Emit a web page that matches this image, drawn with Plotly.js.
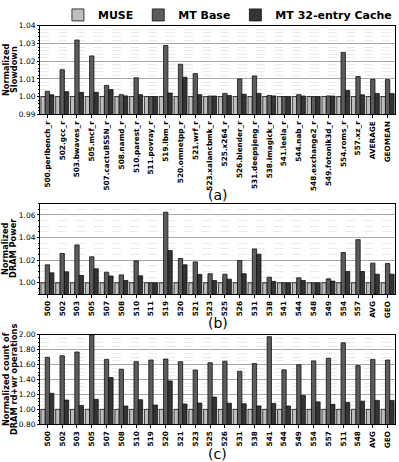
<!DOCTYPE html>
<html>
<head>
<meta charset="utf-8">
<script src="https://cdn.plot.ly/plotly-3.0.1.min.js"></script>
<style>
  html, body { margin: 0; padding: 0; background: #fff; }
  #chart { width: 399px; height: 462px; }
</style>
</head>
<body>
<div id="chart"></div>
<script>
// (a) normalized slowdown
const benchA = ['500.perlbench_r', '502.gcc_r', '503.bwaves_r', '505.mcf_r', '507.cactuBSSN_r', '508.namd_r',
    '510.parest_r', '511.povray_r', '519.lbm_r', '520.omnetpp_r', '521.wrf_r', '523.xalancbmk_r', '525.x264_r',
    '526.blender_r', '531.deepsjeng_r', '538.imagick_r', '541.leela_r', '544.nab_r', '548.exchange2_r',
    '549.fotonik3d_r', '554.roms_r', '557.xz_r', 'AVERAGE', 'GEOMEAN']
const museA = [1, 1, 1, 1, 1, 1, 1, 1, 1, 1, 1, 1, 1, 1, 1, 1, 1, 1, 1, 1, 1, 1, 1, 1]
const baseA = [1.0030, 1.0152, 1.0320, 1.0230, 1.0063, 1.0011, 1.0106, 1.0000, 1.0289, 1.0183, 1.0130, 1.0003,
    1.0018, 1.0100, 1.0117, 1.0006, 1.0000, 1.0011, 1.0000, 1.0004, 1.0250, 1.0113, 1.0098, 1.0096]
const cacheA = [1.0010, 1.0028, 1.0024, 1.0024, 1.0040, 1.0004, 1.0011, 1.0000, 1.0020, 1.0109, 1.0011, 1.0003,
    1.0006, 1.0013, 1.0018, 1.0004, 1.0000, 1.0003, 1.0000, 1.0003, 1.0035, 1.0010, 1.0018, 1.0017]

// (b) normalized DRAM power
const benchB = ['500', '502', '503', '505', '507', '508', '510', '511', '519', '520', '521', '523', '525', '526',
    '531', '538', '541', '544', '548', '549', '554', '557', 'AVG', 'GEO']
const museB = [1, 1, 1, 1, 1, 1, 1, 1, 1, 1, 1, 1, 1, 1, 1, 1, 1, 1, 1, 1, 1, 1, 1, 1]
const baseB = [1.0159, 1.0260, 1.0335, 1.0230, 1.0094, 1.0070, 1.0194, 1.0000, 1.0624, 1.0215, 1.0185, 1.0080,
    1.0076, 1.0197, 1.0300, 1.0050, 1.0000, 1.0044, 1.0000, 1.0035, 1.0268, 1.0382, 1.0174, 1.0170]
const cacheB = [1.0088, 1.0097, 1.0065, 1.0124, 1.0060, 1.0020, 1.0062, 1.0000, 1.0285, 1.0159, 1.0074, 1.0020,
    1.0032, 1.0080, 1.0253, 1.0012, 1.0000, 1.0020, 1.0000, 1.0015, 1.0100, 1.0100, 1.0076, 1.0076]

// (c) normalized count of DRAM rd+wr operations
const benchC = ['500', '502', '503', '505', '507', '508', '510', '519', '520', '521', '523', '525', '526', '531',
    '538', '541', '544', '549', '554', '557', '511', '548', 'AVG', 'GEO']
const museC = [1, 1, 1, 1, 1, 1, 1, 1, 1, 1, 1, 1, 1, 1, 1, 1, 1, 1, 1, 1, 1, 1, 1, 1]
const baseC = [1.698, 1.720, 1.770, 2.000, 1.670, 1.538, 1.640, 1.662, 1.675, 1.640, 1.529, 1.625, 1.645, 1.510,
    1.615, 1.975, 1.530, 1.600, 1.650, 1.685, 1.893, 1.587, 1.670, 1.662]
const cacheC = [1.215, 1.124, 1.053, 1.133, 1.427, 1.044, 1.129, 1.058, 1.382, 1.071, 1.084, 1.165, 1.082, 1.075,
    1.045, 1.080, 1.044, 1.187, 1.100, 1.067, 1.093, 1.110, 1.120, 1.120]

const seriesNames = ['MUSE', 'MT Base', 'MT 32-entry Cache']
const seriesColors = ['#bdbdbd', '#5c5c5c', '#343434']

const FONT = 'DejaVu Sans, sans-serif'

function barTrace(x, y, i, axis, showlegend) {
    return {
        type: 'bar',
        x: x,
        y: y,
        name: seriesNames[i],
        legendgroup: seriesNames[i],
        showlegend: showlegend,
        xaxis: 'x' + axis,
        yaxis: 'y' + axis,
        marker: {color: seriesColors[i], line: {color: '#111', width: 0.8}},
        hoverinfo: 'skip'
    }
}

const data = [
    barTrace(benchA, museA, 0, '', true),
    barTrace(benchA, baseA, 1, '', true),
    barTrace(benchA, cacheA, 2, '', true),
    barTrace(benchB, museB, 0, '2', false),
    barTrace(benchB, baseB, 1, '2', false),
    barTrace(benchB, cacheB, 2, '2', false),
    barTrace(benchC, museC, 0, '3', false),
    barTrace(benchC, baseC, 1, '3', false),
    barTrace(benchC, cacheC, 2, '3', false),
]

const W = 399, H = 462
const xDomain = [40 / W, 395 / W]
const py = (top, bottom) => [1 - bottom / H, 1 - top / H]

function xAxis(anchor) {
    return {
        domain: xDomain,
        anchor: anchor,
        type: 'category',
        tickangle: -90,
        tickfont: {family: FONT, size: 7.3, color: '#000', weight: 'bold'},
        ticks: 'outside',
        ticklen: 3,
        tickcolor: '#000',
        showline: true,
        linecolor: '#000',
        linewidth: 1,
        mirror: true,
        showgrid: false,
        automargin: false,
    }
}

function yAxis(anchor, domain, range, dtick, minorDtick) {
    return {
        domain: domain,
        anchor: anchor,
        range: range,
        dtick: dtick,
        tick0: 1,
        tickformat: '.2f',
        tickfont: {family: FONT, size: 7.5, color: '#000'},
        ticks: 'outside',
        ticklen: 2,
        tickcolor: '#000',
        showline: true,
        linecolor: '#000',
        linewidth: 1,
        mirror: true,
        showgrid: true,
        gridcolor: '#a8a8a8',
        gridwidth: 1,
        zeroline: false,
        minor: {
            dtick: minorDtick,
            tick0: 1,
            showgrid: true,
            gridcolor: '#dedede',
            griddash: 'dash',
            gridwidth: 0.6,
            ticks: 'outside',
            ticklen: 1.5,
            tickcolor: '#000'
        },
        automargin: false,
    }
}

function yTitle(text, yPix, xPix) {
    return {
        text: text,
        x: xPix / W,
        y: 1 - yPix / H,
        xref: 'paper',
        yref: 'paper',
        textangle: -90,
        showarrow: false,
        font: {family: FONT, size: 8.2, color: '#000', weight: 'bold'},
        xanchor: 'center',
        yanchor: 'middle'
    }
}

function panelLabel(text, yPix) {
    return {
        text: text,
        x: 0.5 * (xDomain[0] + xDomain[1]),
        y: 1 - yPix / H,
        xref: 'paper',
        yref: 'paper',
        showarrow: false,
        font: {family: FONT, size: 14, color: '#000'},
        xanchor: 'center',
        yanchor: 'middle'
    }
}

const layout = {
    width: W,
    height: H,
    margin: {l: 0, r: 0, t: 0, b: 0},
    paper_bgcolor: '#fff',
    plot_bgcolor: '#fff',
    barmode: 'group',
    bargap: 0.12,
    bargroupgap: 0,
    showlegend: true,
    legend: {
        orientation: 'h',
        x: 0.57,
        xanchor: 'center',
        y: 1 - 12 / H,
        yanchor: 'middle',
        font: {family: FONT, size: 11, color: '#000', weight: 'bold'},
        itemwidth: 30,
        bgcolor: 'rgba(0,0,0,0)',
        traceorder: 'normal'
    },
    xaxis: xAxis('y'),
    yaxis: yAxis('x', py(23, 112), [0.99, 1.04], 0.01, 0.002),
    xaxis2: xAxis('y2'),
    yaxis2: yAxis('x2', py(202, 293), [0.99, 1.07], 0.02, 0.005),
    xaxis3: xAxis('y3'),
    yaxis3: yAxis('x3', py(334, 424), [0.80, 2.00], 0.2, 0.05),
    annotations: [
        yTitle('Normalized', 67, 5.5),
        yTitle('Slowdown', 67, 13.5),
        yTitle('Normalized', 247, 5.5),
        yTitle('DRAM Power', 247, 13.5),
        yTitle('Normalized count of', 379, 5.5),
        yTitle('DRAM rd+wr operations', 379, 13.5),
        panelLabel('(a)', 193),
        panelLabel('(b)', 322),
        panelLabel('(c)', 454)
    ]
}

Plotly.newPlot('chart', data, layout, {displayModeBar: false, staticPlot: true})
</script>
</body>
</html>
